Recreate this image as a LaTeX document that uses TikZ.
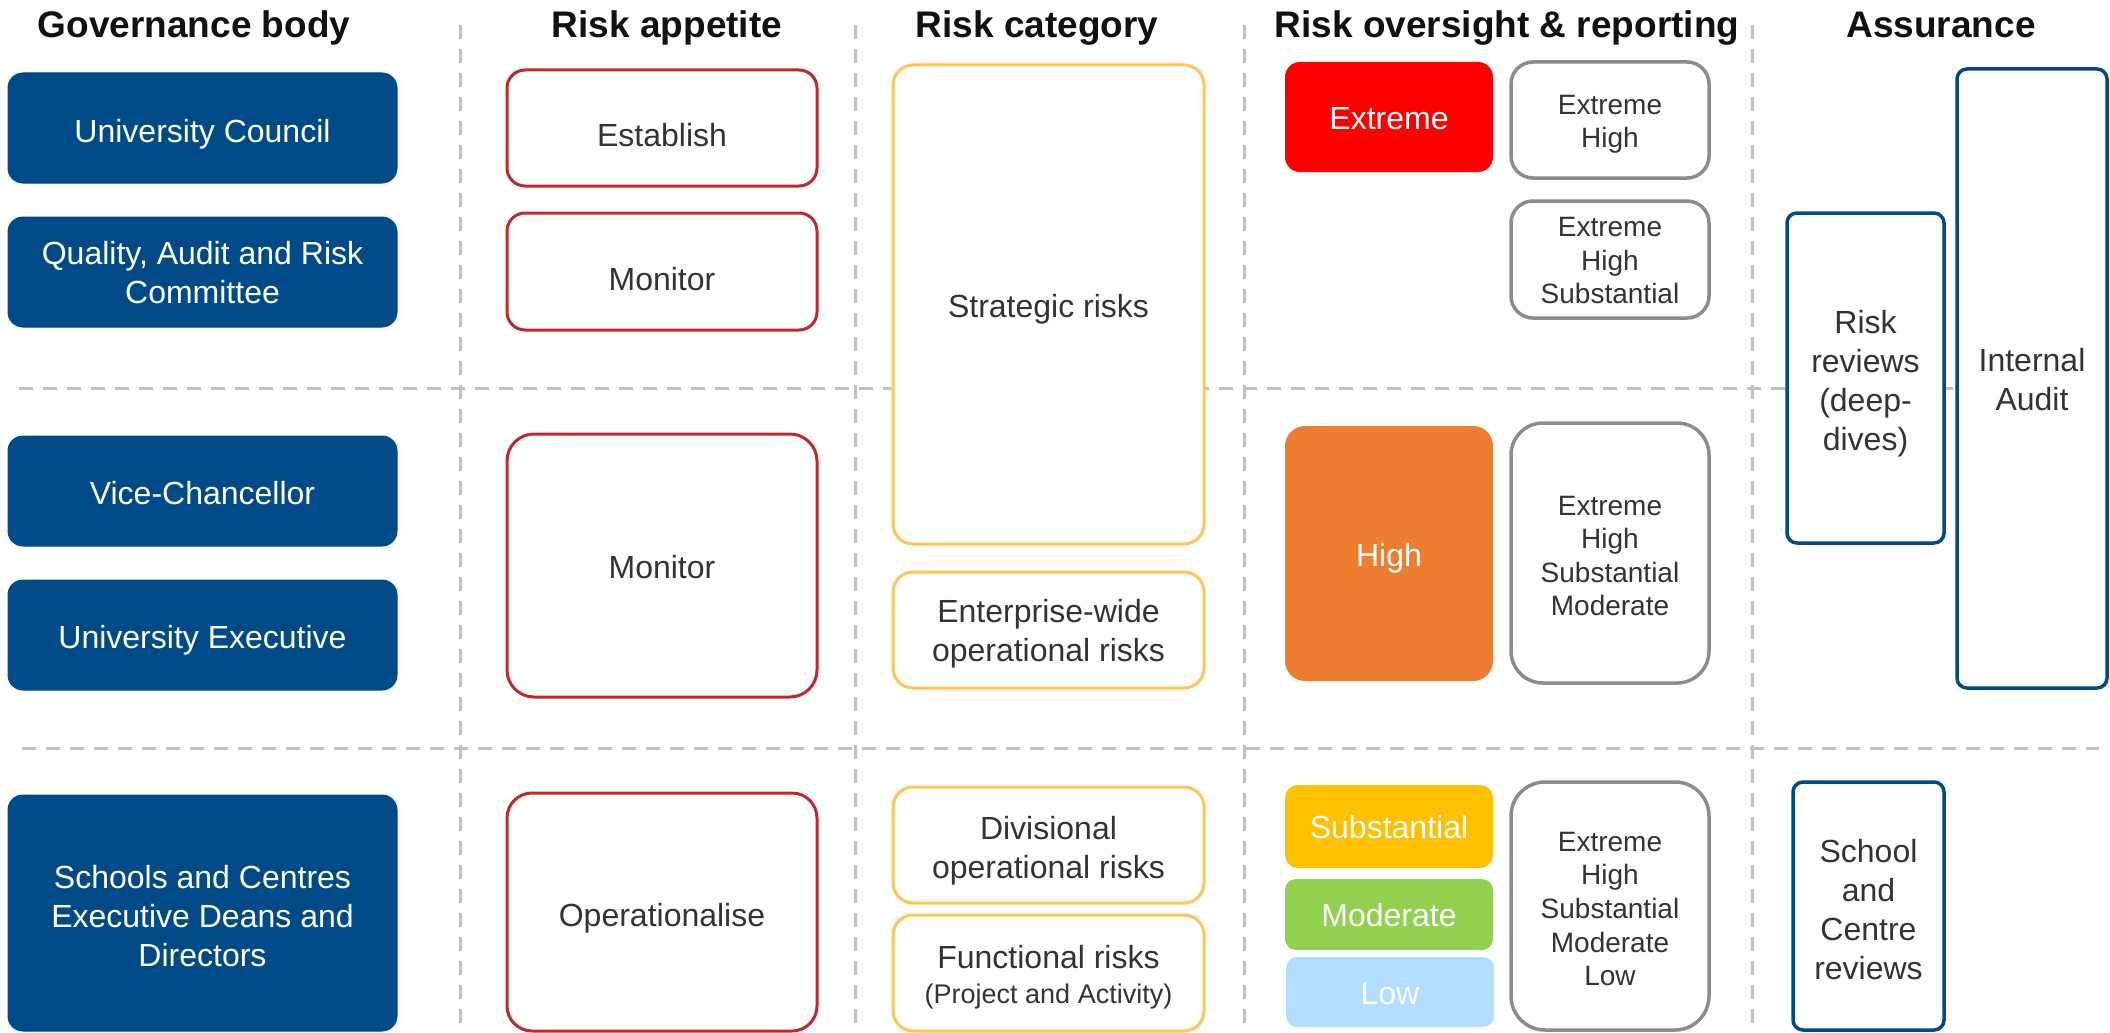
\documentclass[tikz,border=0pt]{standalone}
\usepackage{fontspec}
\setmainfont{Liberation Sans}
\definecolor{govblue}{HTML}{004B87}
\definecolor{apred}{HTML}{C0282E}
\definecolor{catyel}{HTML}{FFC655}
\definecolor{repgray}{HTML}{8C8C8C}
\definecolor{exred}{HTML}{FF0000}
\definecolor{hiorange}{HTML}{ED7D31}
\definecolor{subyel}{HTML}{FFC000}
\definecolor{modgreen}{HTML}{92D050}
\definecolor{lowblue}{HTML}{B3DEFF}
\definecolor{dashgray}{HTML}{C0C0C0}
\definecolor{txt}{HTML}{333333}
\definecolor{hdr}{HTML}{111111}
\newcommand\fBody{\fontsize{32}{39}\selectfont}
\newcommand\fRep{\fontsize{28}{33.6}\selectfont}
\newcommand\fHead{\fontsize{37}{44}\selectfont\bfseries}
\newcommand\fSmall{\fontsize{27}{33}\selectfont}
\newcommand\upstrut[1]{\rule{0pt}{#1}}
\tikzset{
  box/.style={rectangle, inner sep=0pt, outer sep=0pt, align=center},
  one/.style={text height=#1, text depth=0pt},
  one/.default=25pt,
  gov/.style={box, fill=govblue, draw=govblue, line width=1pt, rounded corners=15pt, text=white, font=\fBody},
  app/.style={box, draw=apred, line width=3pt, fill=white, rounded corners=18pt, text=txt, font=\fBody},
  cat/.style={box, draw=catyel, line width=3pt, fill=white, rounded corners=20pt, text=txt, font=\fBody},
  lvl/.style={box, rounded corners=13pt, text=white, font=\fBody},
  rep/.style={box, draw=repgray, line width=3.5pt, fill=white, rounded corners=22pt, text=txt, font=\fRep},
  asr/.style={box, draw=govblue, line width=3.5pt, fill=white, rounded corners=10pt, text=txt, font=\fBody},
  sep/.style={draw=dashgray, line width=3pt, dash pattern=on 14pt off 10pt},
  hd/.style={anchor=base, inner sep=0pt, text=hdr, font=\fHead}
}
\begin{document}
\begin{tikzpicture}[x=1pt,y=-1pt]
\useasboundingbox (0,0) rectangle (2110,1033);
\clip (0,0) rectangle (2110,1033);
\fill[white] (0,0) rectangle (2110,1033);
% separators
\coordinate (v1t) at (460,25);   \coordinate (v1b) at (460,1033);
\coordinate (v2t) at (855,25);   \coordinate (v2b) at (855,1033);
\coordinate (v3t) at (1244,25);  \coordinate (v3b) at (1244,1033);
\coordinate (v4t) at (1752,25);  \coordinate (v4b) at (1752,1033);
\coordinate (h1l) at (19,388);   \coordinate (h1r) at (1957,388);
\coordinate (h2l) at (22,748);   \coordinate (h2r) at (2099,748);
\draw[sep] (v1t) -- (v1b);
\draw[sep] (v2t) -- (v2b);
\draw[sep] (v3t) -- (v3b);
\draw[sep] (v4t) -- (v4b);
\draw[sep] (h1l) -- (h1r);
\draw[sep] (h2l) -- (h2r);
% headers
\node[hd] (hgov) at (194,37.5) {Governance body};
\node[hd] (happ) at (667,37.5) {Risk appetite};
\node[hd] (hcat) at (1037,37.5) {Risk category};
\node[hd] (hrep) at (1507,37.5) {Risk oversight \& reporting};
\node[hd] (hasr) at (1941,37.5) {Assurance};
% governance body
\node[gov, one=28pt, minimum width=389pt, minimum height=110pt] (uc) at (202.5,128) {University Council};
\node[gov, minimum width=389pt, minimum height=110pt] (qarc) at (202.5,272) {\upstrut{25pt}Quality, Audit and Risk\\Committee};
\node[gov, one=26pt, minimum width=389pt, minimum height=110pt] (vc) at (202.5,491) {Vice-Chancellor};
\node[gov, one=26pt, minimum width=389pt, minimum height=110pt] (ue) at (202.5,635) {University Executive};
\node[gov, minimum width=389pt, minimum height=236pt] (sch) at (202.5,913) {\upstrut{28.3pt}Schools and Centres\\Executive Deans and\\Directors};
% risk appetite
\node[app, text height=37pt, text depth=0pt, minimum width=310pt, minimum height=116pt] (est) at (662,128) {Establish};
\node[app, text height=37pt, text depth=0pt, minimum width=310pt, minimum height=117pt] (mon1) at (662,271.5) {Monitor};
\node[app, one, rounded corners=27pt, minimum width=310pt, minimum height=263pt] (mon2) at (662,565.5) {Monitor};
\node[app, one=29pt, rounded corners=25pt, minimum width=310pt, minimum height=238pt] (ops) at (662,912) {Operationalise};
% risk category
\node[cat, one, minimum width=311pt, minimum height=479pt] (strat) at (1048.5,304.5) {Strategic risks};
\node[cat, minimum width=311pt, minimum height=116pt] (ent) at (1048.5,630) {\upstrut{31pt}Enterprise-wide\\operational risks};
\node[cat, minimum width=311pt, minimum height=116pt] (div) at (1048.5,845) {\upstrut{33.7pt}Divisional\\operational risks};
\node[cat, minimum width=311pt, minimum height=116pt] (func) at (1048.5,973) {\upstrut{32.3pt}Functional risks\\[-4pt]{\fSmall (Project and Activity)}};
% risk oversight levels
\node[lvl, one=25.7pt, fill=exred, rounded corners=15pt, minimum width=208pt, minimum height=110pt] (ext) at (1389,117) {Extreme};
\node[lvl, one, fill=hiorange, rounded corners=20pt, minimum width=208pt, minimum height=255pt] (high) at (1389,553.5) {High};
\node[lvl, one=23pt, fill=subyel, minimum width=208pt, minimum height=83pt] (sub) at (1389,826.5) {Substantial};
\node[lvl, one=24pt, fill=modgreen, rounded corners=11pt, minimum width=208pt, minimum height=71pt] (mod) at (1389,914.5) {Moderate};
\node[lvl, one, fill=lowblue, rounded corners=11pt, minimum width=208pt, minimum height=70pt] (low) at (1390,992) {Low};
% reporting boxes
\node[rep, minimum width=198pt, minimum height=116pt] (g1) at (1610,120) {\upstrut{28pt}Extreme\\High};
\node[rep, minimum width=198pt, minimum height=117pt] (g2) at (1610,259.5) {\upstrut{22pt}Extreme\\High\\Substantial};
\node[rep, rounded corners=32pt, minimum width=198pt, minimum height=260pt] (g3) at (1610,553) {\upstrut{25.4pt}Extreme\\High\\Substantial\\Moderate};
\node[rep, rounded corners=34pt, minimum width=198pt, minimum height=248pt] (g4) at (1610,906) {\upstrut{25.4pt}Extreme\\High\\Substantial\\Moderate\\Low};
% assurance
\node[asr, minimum width=157pt, minimum height=330pt] (rr) at (1865.5,378) {\upstrut{35pt}Risk\\reviews\\(deep-\\dives)};
\node[asr, minimum width=150pt, minimum height=619pt] (ia) at (2032,378.5) {\upstrut{25pt}Internal\\Audit};
\node[asr, minimum width=151pt, minimum height=248pt] (scr) at (1868.5,906) {\upstrut{29.7pt}School\\and\\Centre\\reviews};
\end{tikzpicture}
\end{document}
